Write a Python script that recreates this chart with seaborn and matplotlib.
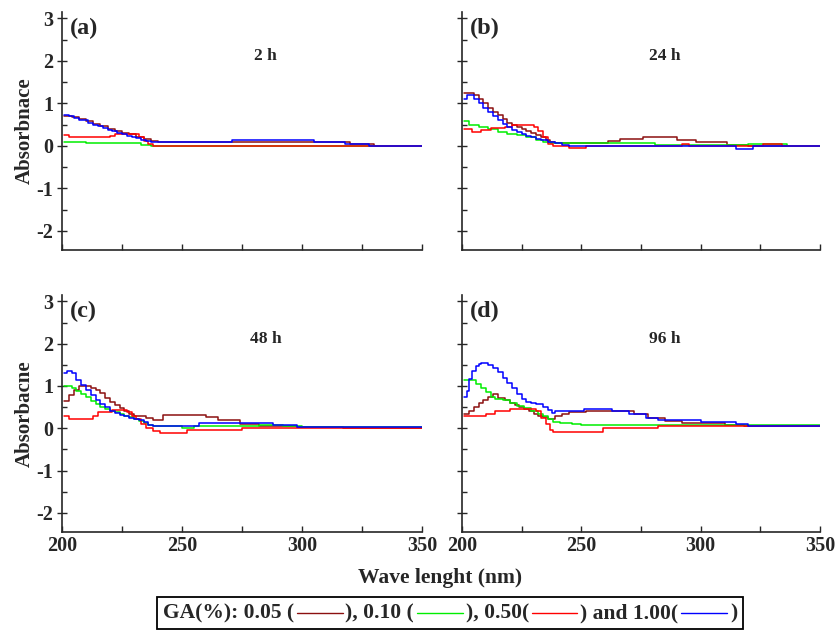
import numpy as np
import pandas as pd
import matplotlib
matplotlib.use("Agg")
import matplotlib.pyplot as plt
import seaborn as sns
from matplotlib.lines import Line2D
from matplotlib.offsetbox import TextArea, DrawingArea, HPacker, AnchoredOffsetbox
from matplotlib.ticker import MultipleLocator

# ---------------- data ----------------
# panel (a) 2 h
wl_a_005 = [201, 204, 207, 210, 213, 216, 219, 222, 225, 228, 231, 234, 237, 240, 300, 320, 330, 350]
ab_a_005 = [0.70, 0.68, 0.63, 0.58, 0.52, 0.46, 0.40, 0.34, 0.30, 0.27, 0.22, 0.17, 0.12, 0.10, 0.08, 0.04, 0.0, 0.0]
wl_a_010 = [201, 210, 233, 237, 350]
ab_a_010 = [0.10, 0.07, 0.02, 0.0, 0.0]
wl_a_050 = [201, 203, 220, 222, 232, 234, 236, 238, 350]
ab_a_050 = [0.25, 0.20, 0.23, 0.27, 0.22, 0.12, 0.05, 0.0, 0.0]
wl_a_100 = [201, 203, 205, 207, 209, 211, 213, 215, 217, 219, 221, 223, 225, 227, 229, 231, 233, 235, 237, 271, 305, 318, 328, 350]
ab_a_100 = [0.72, 0.70, 0.66, 0.62, 0.60, 0.55, 0.50, 0.46, 0.42, 0.38, 0.34, 0.30, 0.27, 0.24, 0.20, 0.18, 0.15, 0.12, 0.10, 0.14, 0.10, 0.05, 0.0, 0.0]

# panel (b) 24 h
wl_b_005 = [201, 205, 207, 209, 211, 213, 215, 217, 219, 221, 223, 225, 227, 229, 231, 233, 235, 237, 239, 261, 266, 276, 290, 298, 311, 320, 350]
ab_b_005 = [1.24, 1.20, 1.10, 1.00, 0.90, 0.80, 0.72, 0.63, 0.55, 0.50, 0.45, 0.40, 0.35, 0.30, 0.25, 0.20, 0.15, 0.10, 0.07, 0.12, 0.17, 0.20, 0.15, 0.10, 0.03, 0.0, 0.0]
wl_b_010 = [201, 203, 207, 211, 215, 219, 223, 227, 231, 234, 237, 281, 320, 336, 350]
ab_b_010 = [0.58, 0.50, 0.45, 0.40, 0.33, 0.28, 0.25, 0.20, 0.15, 0.10, 0.07, 0.01, 0.05, 0.0, 0.0]
wl_b_050 = [201, 204, 208, 212, 218, 221, 230, 232, 234, 236, 238, 245, 252, 292, 295, 326, 334, 350]
ab_b_050 = [0.40, 0.33, 0.38, 0.42, 0.45, 0.50, 0.45, 0.35, 0.20, 0.05, 0.0, -0.05, 0.0, 0.05, 0.0, 0.05, 0.0, 0.0]
wl_b_100 = [201, 202, 205, 207, 209, 211, 213, 215, 217, 219, 221, 223, 225, 227, 229, 231, 233, 236, 239, 242, 245, 315, 322, 350]
ab_b_100 = [1.10, 1.20, 1.10, 1.00, 0.90, 0.80, 0.70, 0.60, 0.52, 0.45, 0.38, 0.32, 0.27, 0.23, 0.20, 0.16, 0.13, 0.10, 0.07, 0.03, 0.0, -0.07, 0.0, 0.0]

# panel (c) 48 h
wl_c_005 = [201, 203, 205, 207, 212, 214, 216, 218, 220, 222, 224, 226, 228, 230, 232, 235, 238, 242, 260, 265, 274, 282, 298, 317, 350]
ab_c_005 = [0.65, 0.78, 0.90, 1.00, 0.95, 0.90, 0.83, 0.72, 0.62, 0.55, 0.47, 0.40, 0.35, 0.30, 0.28, 0.25, 0.20, 0.32, 0.27, 0.20, 0.11, 0.06, 0.02, 0.0, 0.0]
wl_c_010 = [201, 204, 206, 208, 210, 212, 214, 216, 218, 220, 222, 224, 226, 228, 230, 232, 234, 236, 238, 250, 255, 282, 292, 300, 350]
ab_c_010 = [1.00, 0.95, 0.88, 0.82, 0.74, 0.65, 0.58, 0.50, 0.45, 0.42, 0.38, 0.35, 0.30, 0.26, 0.22, 0.18, 0.12, 0.08, 0.05, 0.0, 0.05, 0.09, 0.05, 0.03, 0.03]
wl_c_050 = [201, 203, 213, 215, 221, 227, 229, 231, 233, 235, 238, 241, 252, 275, 350]
ab_c_050 = [0.28, 0.23, 0.30, 0.38, 0.44, 0.38, 0.30, 0.22, 0.10, 0.0, -0.06, -0.11, -0.05, 0.0, 0.0]
wl_c_100 = [201, 202, 204, 206, 208, 210, 212, 214, 216, 218, 220, 222, 224, 226, 228, 230, 232, 234, 236, 238, 257, 288, 298, 350]
ab_c_100 = [1.30, 1.35, 1.30, 1.15, 1.02, 0.90, 0.78, 0.68, 0.58, 0.50, 0.42, 0.36, 0.32, 0.28, 0.25, 0.22, 0.19, 0.14, 0.09, 0.05, 0.12, 0.08, 0.04, 0.04]

# panel (d) 96 h
wl_d_005 = [201, 203, 205, 207, 209, 211, 213, 215, 218, 220, 222, 224, 226, 228, 230, 232, 234, 236, 239, 242, 245, 252, 265, 272, 278, 285, 292, 310, 318, 350]
ab_d_005 = [0.35, 0.42, 0.50, 0.60, 0.68, 0.75, 0.80, 0.72, 0.66, 0.60, 0.55, 0.50, 0.45, 0.40, 0.35, 0.30, 0.26, 0.23, 0.28, 0.33, 0.38, 0.42, 0.40, 0.33, 0.25, 0.18, 0.12, 0.08, 0.05, 0.05]
wl_d_010 = [201, 206, 208, 210, 212, 214, 217, 220, 223, 226, 229, 232, 234, 236, 238, 241, 246, 250, 350]
ab_d_010 = [1.15, 1.05, 0.95, 0.85, 0.75, 0.70, 0.66, 0.60, 0.53, 0.47, 0.42, 0.35, 0.28, 0.22, 0.16, 0.12, 0.10, 0.08, 0.08]
wl_d_050 = [201, 210, 214, 220, 231, 233, 235, 237, 238, 259, 282, 350]
ab_d_050 = [0.28, 0.33, 0.40, 0.46, 0.40, 0.25, 0.10, -0.03, -0.08, 0.0, 0.05, 0.05]
wl_d_100 = [201, 202, 203, 204, 206, 207, 208, 211, 213, 215, 217, 219, 221, 223, 225, 227, 229, 231, 234, 236, 237.5, 239, 251, 263, 270, 277, 282, 300, 315, 320, 350]
ab_d_100 = [0.73, 0.89, 1.17, 1.36, 1.48, 1.53, 1.55, 1.50, 1.42, 1.32, 1.20, 1.08, 0.95, 0.80, 0.70, 0.63, 0.60, 0.57, 0.50, 0.44, 0.37, 0.42, 0.46, 0.42, 0.35, 0.25, 0.20, 0.15, 0.10, 0.06, 0.06]

ga_labels = ["0.05", "0.10", "0.50", "1.00"]
ga_colors = ["#8b1010", "#00ee00", "#ff0000", "#0000ff"]
panel_tags = ["(a)", "(b)", "(c)", "(d)"]
panel_times = ["2 h", "24 h", "48 h", "96 h"]

panels = [
    [(wl_a_005, ab_a_005), (wl_a_010, ab_a_010), (wl_a_050, ab_a_050), (wl_a_100, ab_a_100)],
    [(wl_b_005, ab_b_005), (wl_b_010, ab_b_010), (wl_b_050, ab_b_050), (wl_b_100, ab_b_100)],
    [(wl_c_005, ab_c_005), (wl_c_010, ab_c_010), (wl_c_050, ab_c_050), (wl_c_100, ab_c_100)],
    [(wl_d_005, ab_d_005), (wl_d_010, ab_d_010), (wl_d_050, ab_d_050), (wl_d_100, ab_d_100)],
]

# ---------------- style ----------------
sns.set_style("ticks")
plt.rcParams['font.family'] = ['Liberation Serif', 'DejaVu Serif']
plt.rcParams['font.weight'] = 'bold'
plt.rcParams['axes.unicode_minus'] = False

fig = plt.figure(figsize=(8.35, 6.32), dpi=100)
W, H = 835, 632
boxes = [(62, 12, 422, 250), (462, 12, 820, 250), (62, 295, 422, 532), (462, 295, 820, 532)]

for i, (x0, y0, x1, y1) in enumerate(boxes):
    ax = fig.add_axes([x0 / W, 1 - y1 / H, (x1 - x0) / W, (y1 - y0) / H])
    for (wl, ab), lab, col in zip(panels[i], ga_labels, ga_colors):
        df = pd.DataFrame({'wl': wl, 'ab': ab})
        sns.lineplot(data=df, x='wl', y='ab', color=col, lw=1.1, drawstyle='steps-post',
                     estimator=None, sort=False, ax=ax)
    ax.set_xlim(200, 350)
    ax.set_ylim(-2.45, 3.15)
    ax.xaxis.set_major_locator(MultipleLocator(50))
    ax.xaxis.set_minor_locator(MultipleLocator(25))
    ax.yaxis.set_major_locator(MultipleLocator(1))
    ax.yaxis.set_minor_locator(MultipleLocator(0.5))
    ax.tick_params(axis='x', which='both', direction='in', length=4, width=1)
    ax.tick_params(axis='y', which='major', direction='inout', length=7, width=1)
    ax.tick_params(axis='y', which='minor', direction='in', length=3.5, width=1)
    ax.tick_params(labelsize=14.5, pad=3)
    for lb in ax.get_xticklabels() + ax.get_yticklabels():
        lb.set_fontweight('bold')
    sns.despine(ax=ax)
    for sp in ['left', 'bottom']:
        ax.spines[sp].set_linewidth(1.2)
    ax.set_xlabel('')
    ax.set_ylabel('')
    if i < 2:
        ax.tick_params(axis='x', labelbottom=False)
    if i % 2 == 1:
        ax.tick_params(axis='y', labelleft=False)
    ax.text(0.022, 0.975, panel_tags[i], transform=ax.transAxes, fontsize=17.5,
            fontweight='bold', va='top', ha='left')
    ax.text(0.565, 0.815, panel_times[i], transform=ax.transAxes, fontsize=12.5,
            fontweight='bold', va='center', ha='center')
    if i == 0:
        ax.set_ylabel('Absorbnace', fontsize=15, fontweight='bold', labelpad=1)
    if i == 2:
        ax.set_ylabel('Absorbacne', fontsize=15, fontweight='bold', labelpad=1)

fig.text(440 / W, 1 - 578 / H, 'Wave lenght (nm)', fontsize=15.5, fontweight='bold',
         ha='center', va='center')

# legend box with inline line samples
tp = dict(fontsize=15.5, fontweight='bold')
def sample(col):
    da = DrawingArea(35, 10, 0, 0)
    da.add_artist(Line2D([1, 34], [5, 5], color=col, lw=1.0))
    return da

parts = [TextArea("GA(%): 0.05 (", textprops=tp), sample(ga_colors[0]),
         TextArea("), 0.10 (", textprops=tp), sample(ga_colors[1]),
         TextArea("), 0.50(", textprops=tp), sample(ga_colors[2]),
         TextArea(") and 1.00(", textprops=tp), sample(ga_colors[3]),
         TextArea(")", textprops=tp)]
pack = HPacker(children=parts, align="center", pad=0, sep=1)
box = AnchoredOffsetbox(loc='center', child=pack, pad=0.45, borderpad=0, frameon=True,
                        bbox_to_anchor=(450 / W, 1 - 613 / H), bbox_transform=fig.transFigure)
box.patch.set_linewidth(1.3)
box.patch.set_edgecolor('black')
fig.add_artist(box)

fig.savefig("out.png", dpi=100)
